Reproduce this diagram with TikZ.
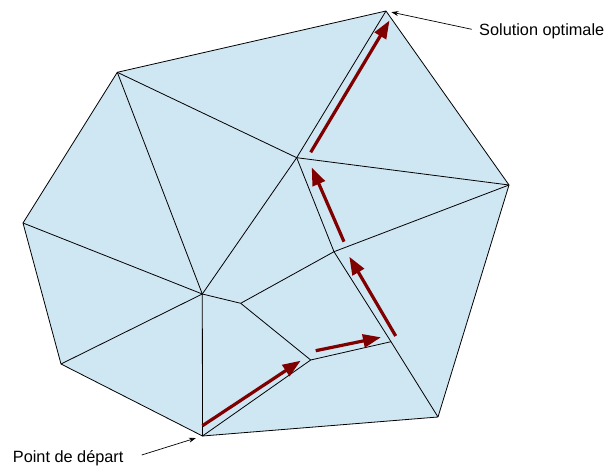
\documentclass[tikz,border=0pt]{standalone}
\usepackage{fontspec}
\setmainfont{Liberation Sans}
\usetikzlibrary{arrows.meta}
\definecolor{facefill}{RGB}{207,230,243}
\definecolor{pathred}{RGB}{128,0,0}
\begin{document}
\begin{tikzpicture}[x=1pt,y=-1pt,
  edge/.style={line width=0.8pt, line join=round},
  move/.style={pathred, line width=3.2pt, -{Triangle[length=18pt,width=13pt]}},
  callout/.style={line width=0.7pt, -{Stealth[length=7pt,width=5pt]}},
  lbl/.style={font=\fontsize{16.3}{19}\selectfont, inner sep=0pt, anchor=west}]
\useasboundingbox (0,0) rectangle (606,468);
% outer vertices
\coordinate (T)  at (386,11);
\coordinate (R)  at (509,185);
\coordinate (BR) at (438,417);
\coordinate (B)  at (202.5,436);
\coordinate (BL) at (61,364);
\coordinate (L)  at (23,223);
\coordinate (TL) at (117.3,72.3);
% interior vertices
\coordinate (C)  at (202.3,294);
\coordinate (P1) at (296.7,157.7);
\coordinate (P2) at (334,251.7);
\coordinate (Q)  at (240.7,303.3);
\coordinate (P4) at (391,341.7);
\coordinate (P5) at (310.7,360);
% face
\fill[facefill] (T)--(R)--(BR)--(B)--(BL)--(L)--(TL)--cycle;
% edges
\draw[edge] (T)--(R)--(BR)--(B)--(BL)--(L)--(TL)--cycle;
\draw[edge] (TL)--(P1);
\draw[edge] (TL)--(C);
\draw[edge] (L)--(C);
\draw[edge] (BL)--(C);
\draw[edge] (B)--(C);
\draw[edge] (C)--(P1);
\draw[edge] (T)--(P1);
\draw[edge] (P1)--(R);
\draw[edge] (P1)--(P2);
\draw[edge] (P2)--(R);
\draw[edge] (P2)--(P4)--(BR);
\draw[edge] (Q)--(P2);
\draw[edge] (C)--(Q);
\draw[edge] (Q)--(P5);
\draw[edge] (P5)--(P4);
\draw[edge] (P5)--(B);
% path arrows
\coordinate (m1s) at (202.5,425.7); \coordinate (m1e) at (300.7,360.7);
\coordinate (m2s) at (315.7,350.7); \coordinate (m2e) at (381,337.3);
\coordinate (m3s) at (395.7,336);   \coordinate (m3e) at (349.3,256.7);
\coordinate (m4s) at (344,241.7);   \coordinate (m4e) at (311.7,167.3);
\coordinate (m5s) at (310.7,152.3); \coordinate (m5e) at (389.5,20.5);
\draw[move] (m1s)--(m1e);
\draw[move] (m2s)--(m2e);
\draw[move] (m3s)--(m3e);
\draw[move] (m4s)--(m4e);
\draw[move] (m5s)--(m5e);
% labels
\node[lbl] (sol) at (479,31) {Solution optimale};
\node[lbl] (dep) at (12.7,458) {Point de départ};
\coordinate (solA) at (471.7,29.3);
\coordinate (depA) at (141.7,455);
\draw[callout, shorten >=5.5pt] (solA) -- (T);
\draw[callout, shorten >=7pt] (depA) -- (B);
\end{tikzpicture}
\end{document}
